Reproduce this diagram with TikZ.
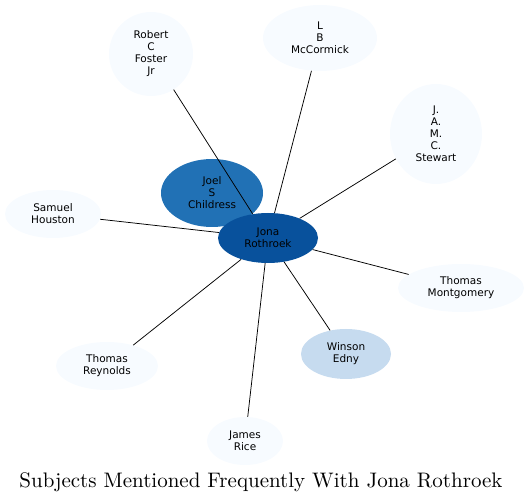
\documentclass[tikz,border=0pt]{standalone}
\usepackage{fontspec}
\setsansfont{DejaVu Sans}
\newfontfamily\titlefont{lmroman10-regular.otf}
\usetikzlibrary{shapes.geometric}

\definecolor{blue1}{HTML}{F7FBFF}
\definecolor{blue2}{HTML}{C6DBEF}
\definecolor{blue3}{HTML}{2171B5}
\definecolor{blue4}{HTML}{08519C}

\begin{document}
\begin{tikzpicture}[x=1pt,y=-1pt,
    person/.style={ellipse,
        fill=blue1,
        inner sep=0pt,
        align=center,
        font=\sffamily\fontsize{10.5}{12}\selectfont}]

\useasboundingbox (0,0) rectangle (531,502);

% Centre and close subject
\node[person,
    fill=blue3,
    minimum width=102,
    minimum height=68] (joel) at (212,193) {Joel\\S\\Childress};

\node[person,
    fill=blue4,
    minimum width=100,
    minimum height=50] (jona) at (268,238) {Jona\\Rothroek};

% Outer subjects
\node[person,
    minimum width=84,
    minimum height=84] (robert) at (151,54) {Robert\\C\\Foster\\Jr};

\node[person,
    minimum width=114,
    minimum height=66] (mccormick) at (320,38) {L\\B\\McCormick};

\node[person,
    minimum width=92,
    minimum height=100] (stewart) at (436,134) {J.\\A.\\M.\\C.\\Stewart};

\node[person,
    minimum width=96,
    minimum height=48] (houston) at (53,214) {Samuel\\Houston};

\node[person,
    minimum width=126,
    minimum height=48] (montgomery) at (461,288) {Thomas\\Montgomery};

\node[person,
    fill=blue2,
    minimum width=90,
    minimum height=50] (edny) at (346,354) {Winson\\Edny};

\node[person,
    minimum width=102,
    minimum height=48] (reynolds) at (107,366) {Thomas\\Reynolds};

\node[person,
    minimum width=76,
    minimum height=48] (rice) at (245,441) {James\\Rice};

% Title
\node[font=\titlefont\fontsize{21}{25}\selectfont] (title) at (261,482) {Subjects Mentioned Frequently With Jona Rothroek};

% Links
\draw[line width=0.75pt] (jona) edge (robert)
    (jona) edge (mccormick)
    (jona) edge (stewart)
    (jona) edge (houston)
    (jona) edge (montgomery)
    (jona) edge (edny)
    (jona) edge (reynolds)
    (jona) edge (rice);

\end{tikzpicture}
\end{document}
